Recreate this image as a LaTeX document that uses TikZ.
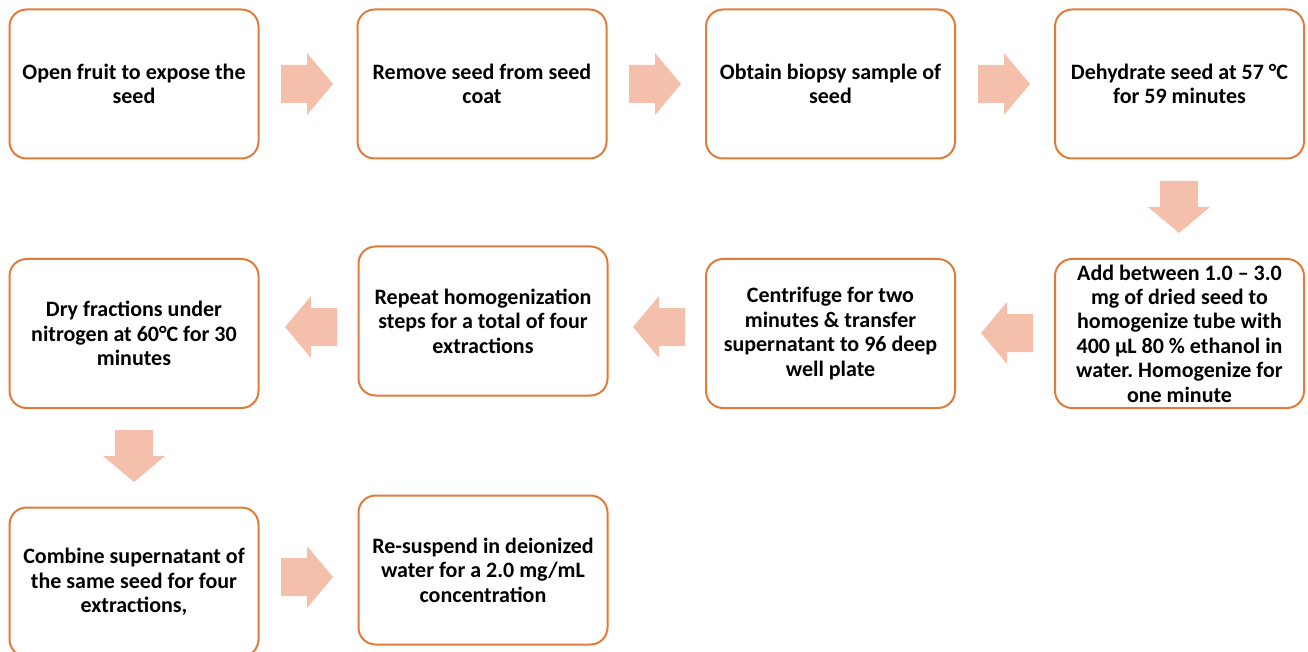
\documentclass[tikz,border=0pt]{standalone}
\usepackage{fontspec}
\setmainfont{Carlito}
\frenchspacing
\begin{document}
\begin{tikzpicture}[x=1pt,y=-1pt,
  stepbox/.style={draw=boxorange,line width=2pt,rounded corners=17pt,
    minimum width=249pt,minimum height=149pt,align=center,inner sep=0pt,
    font=\fontsize{22}{24.4}\selectfont\bfseries},
  pics/barrow/.style={code={
    \fill[arrowfill] (-26,-19) -- (0,-19) -- (0,-31) -- (26,0) -- (0,31) -- (0,19) -- (-26,19) -- cycle;}}
]
\definecolor{boxorange}{HTML}{E07B39}
\definecolor{arrowfill}{HTML}{F4BFAB}
\useasboundingbox (0,0) rectangle (1308,652);
\clip (0,0) rectangle (1308,652);
% row 1
\node[stepbox] (b1) at (134,84) {Open fruit to expose the\\seed};
\node[stepbox] (b2) at (482,84) {Remove seed from seed\\coat};
\node[stepbox] (b3) at (830.5,84) {Obtain biopsy sample of\\seed};
\node[stepbox] (b4) at (1179.5,84) {Dehydrate seed at 57 °C\\for 59 minutes};
% row 2
\node[stepbox] (b5) at (1179.5,333.5) {Add between 1.0 – 3.0\\mg of dried seed to\\homogenize tube with\\400 µL 80 \% ethanol in\\water. Homogenize for\\one minute};
\node[stepbox] (b6) at (830.5,333.5) {Centrifuge for two\\minutes \& transfer\\supernatant to 96 deep\\well plate};
\node[stepbox] (b7) at (483,321) {Repeat homogenization\\steps for a total of four\\extractions};
\node[stepbox] (b8) at (134,333.5) {Dry fractions under\\nitrogen at 60°C for 30\\minutes};
% row 3
\node[stepbox] (b9) at (134,582) {Combine supernatant of\\the same seed for four\\extractions,};
\node[stepbox] (b10) at (483,570) {Re-suspend in deionized\\water for a 2.0 mg/mL\\concentration};
% arrows
\pic at (307,84) {barrow};
\pic at (655,84) {barrow};
\pic at (1004,84) {barrow};
\pic[rotate=-90] at (1179,207) {barrow};
\pic[rotate=180] at (1007,333) {barrow};
\pic[rotate=180] at (659,327) {barrow};
\pic[rotate=180] at (311,327) {barrow};
\pic[rotate=-90] at (134,456) {barrow};
\pic at (307,577) {barrow};
\end{tikzpicture}
\end{document}
